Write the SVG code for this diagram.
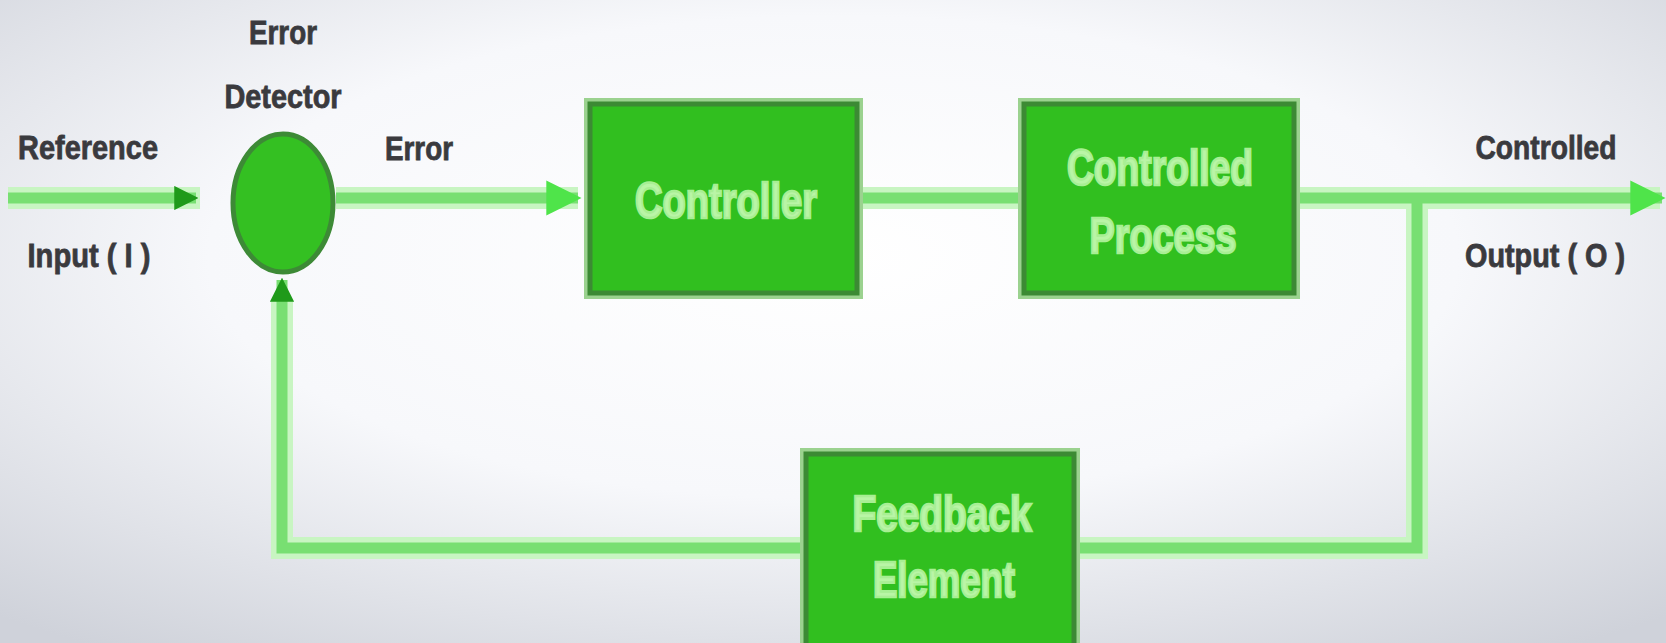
<svg xmlns="http://www.w3.org/2000/svg" width="1666" height="643" viewBox="0 0 1666 643">
<defs>
<radialGradient id="bg" cx="0.5" cy="0.4" r="0.75">
<stop offset="0" stop-color="#ffffff"/>
<stop offset="0.5" stop-color="#f7f8fb"/>
<stop offset="1" stop-color="#cfd2da"/>
</radialGradient>
<marker id="arr" viewBox="0 0 10 10" refX="9" refY="5" markerWidth="3.2" markerHeight="3.2" orient="auto" markerUnits="strokeWidth">
<path d="M0,0 L10,5 L0,10 z" fill="#4fe44a"/>
</marker>
<marker id="arrs" viewBox="0 0 10 10" refX="9" refY="5" markerWidth="2.2" markerHeight="2.2" orient="auto" markerUnits="strokeWidth">
<path d="M0,0 L10,5 L0,10 z" fill="#1f9a1a"/>
</marker>
</defs>
<style>
.glow{fill:none;stroke:#c8f5c2;stroke-width:22;stroke-linejoin:miter}
.wire{fill:none;stroke:#78df72;stroke-width:11;stroke-linejoin:miter}
.box{fill:#31bf1f;stroke:#3c8a34;stroke-width:5}
.boxedge{fill:none;stroke:#9bd28f;stroke-width:4}
.lbl{font-family:"Liberation Sans",Arial,sans-serif;font-weight:bold;font-size:33px;fill:#3a3a3e;stroke:#3a3a3e;stroke-width:0.8;text-anchor:middle}
.btxt{font-family:"Liberation Sans",Arial,sans-serif;font-weight:bold;font-size:50px;fill:#b9f5a6;stroke:#a8ef94;stroke-width:2.6;text-anchor:middle}
</style>
<rect width="1666" height="643" fill="url(#bg)"/>
<g id="connectors">
<path class="glow" d="M8,198 H200"/>
<path class="glow" d="M336,198 H578"/>
<path class="glow" d="M860,198 H1022"/>
<path class="glow" d="M1297,198 H1660"/>
<path class="glow" d="M1417,198 V548 H1076"/>
<path class="glow" d="M804,548 H282 V300"/>
<path class="wire" d="M8,198 H196" marker-end="url(#arrs)"/>
<path class="wire" d="M336,198 H578" marker-end="url(#arr)"/>
<path class="wire" d="M860,198 H1022"/>
<path class="wire" d="M1297,198 H1662" marker-end="url(#arr)"/>
<path class="wire" d="M1417,198 V548 H1076"/>
<path class="wire" d="M804,548 H282 V280" marker-end="url(#arrs)"/>
</g>
<g id="labels">
<text class="lbl" x="88" y="159" textLength="140" lengthAdjust="spacingAndGlyphs">Reference</text>
<text class="lbl" x="89" y="267" textLength="123" lengthAdjust="spacingAndGlyphs">Input ( I )</text>
<text class="lbl" x="283" y="44" textLength="68" lengthAdjust="spacingAndGlyphs">Error</text>
<text class="lbl" x="283" y="108" textLength="117" lengthAdjust="spacingAndGlyphs">Detector</text>
<text class="lbl" x="419" y="160" textLength="68" lengthAdjust="spacingAndGlyphs">Error</text>
<text class="lbl" x="1546" y="159" textLength="141" lengthAdjust="spacingAndGlyphs">Controlled</text>
<text class="lbl" x="1545" y="267" textLength="160" lengthAdjust="spacingAndGlyphs">Output ( O )</text>
</g>
<g id="error-detector">
<ellipse cx="283" cy="203" rx="50" ry="69" fill="#34c022" stroke="#3d8a36" stroke-width="5"/>
</g>
<g id="controller">
<rect class="boxedge" x="586" y="100" width="275" height="197"/>
<rect class="box" x="590" y="104" width="267" height="189"/>
<text class="btxt" x="726" y="218" textLength="182" lengthAdjust="spacingAndGlyphs">Controller</text>
</g>
<g id="controlled-process">
<rect class="boxedge" x="1020" y="100" width="278" height="197"/>
<rect class="box" x="1024" y="104" width="270" height="189"/>
<text class="btxt" x="1160" y="185" textLength="186" lengthAdjust="spacingAndGlyphs">Controlled</text>
<text class="btxt" x="1163" y="253" textLength="147" lengthAdjust="spacingAndGlyphs">Process</text>
</g>
<g id="feedback-element">
<rect class="boxedge" x="802" y="450" width="276" height="200"/>
<rect class="box" x="806" y="454" width="268" height="200"/>
<text class="btxt" x="942" y="531" textLength="179" lengthAdjust="spacingAndGlyphs">Feedback</text>
<text class="btxt" x="944" y="597" textLength="142" lengthAdjust="spacingAndGlyphs">Element</text>
</g>
</svg>
